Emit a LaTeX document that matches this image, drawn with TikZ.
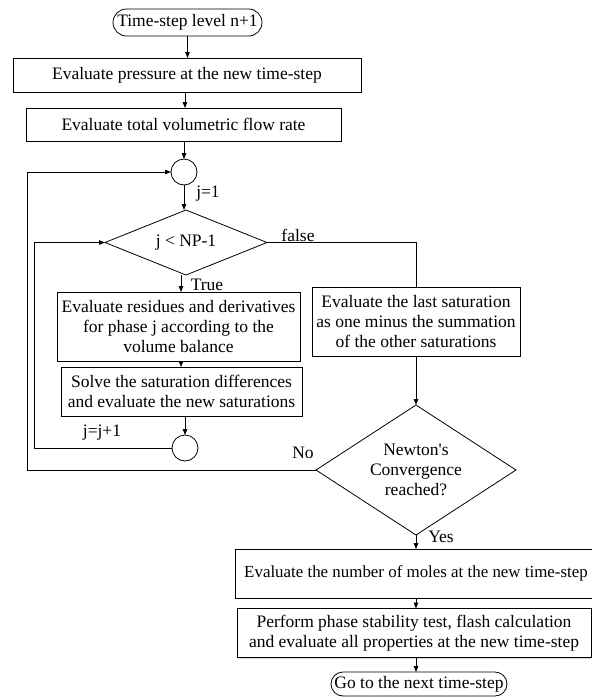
\documentclass[tikz,border=0pt]{standalone}
\usepackage{fontspec}
\setmainfont{Liberation Serif}
\usetikzlibrary{shapes.geometric,shapes.misc,arrows.meta,shadows}
\begin{document}
\begin{tikzpicture}[x=1pt,y=-1pt,
  every node/.style={font=\fontsize{17.5}{20}\selectfont, inner sep=0pt, outer sep=0pt},
  box/.style={draw, rectangle, line width=0.8pt, fill=white, align=center,
    drop shadow={shadow xshift=1.3pt, shadow yshift=-1.3pt, opacity=0.3}},
  term/.style={draw, rounded rectangle, line width=0.8pt, fill=white},
  dia/.style={draw, diamond, line width=0.8pt, fill=white, align=center},
  conn/.style={draw, circle, line width=0.8pt, fill=white, minimum size=26pt},
  lbl/.style={},
  arr/.style={line width=0.8pt, -{Triangle[length=6pt,width=4.5pt]}},
  ln/.style={line width=0.8pt}
]
\useasboundingbox (0,0) rectangle (592,697);

\node[term, minimum width=149pt, minimum height=27pt] (start) at (187.5,22.5) {Time-step level n+1};
\node[box, minimum width=348pt, minimum height=34pt] (b1) at (187,75) {Evaluate pressure at the new time-step};
\node[box, minimum width=315pt, minimum height=33pt] (b2) at (183.5,124.5) {Evaluate total volumetric flow rate};
\node[conn] (c1) at (184,172) {};
\node[dia, minimum width=162pt, minimum height=65pt, shape aspect=2.5] (d1) at (186,242.5) {j < NP-1};
\node[box, minimum width=243pt, minimum height=69pt] (res) at (178.5,326.5) {Evaluate residues and derivatives\\for phase j according to the\\volume balance};
\node[box, minimum width=241pt, minimum height=49pt] (sol) at (181.5,391.5) {Solve the saturation differences\\and evaluate the new saturations};
\node[conn] (c2) at (185,448) {};
\node[box, minimum width=208pt, minimum height=69pt] (rb) at (416,321.5) {Evaluate the last saturation\\as one minus the summation\\of the other saturations};
\node[dia, minimum width=200pt, minimum height=130pt, shape aspect=1.54] (d2) at (416,470) {Newton\textquotesingle s\\Convergence\\reached?};
\node[box, minimum width=362pt, minimum height=49pt, font=\fontsize{16.9}{20}\selectfont] (mol) at (416,573.5) {Evaluate the number of moles at the new time-step};
\node[box, minimum width=354pt, minimum height=49pt] (perf) at (414,633) {Perform phase stability test, flash calculation\\and evaluate all properties at the new time-step};
\node[term, minimum width=176pt, minimum height=24pt] (go) at (419,684) {Go to the next time-step};

\coordinate (L1) at (34,300);
\coordinate (L2) at (27,300);

\draw[arr] (start.south) -- (start.south |- b1.north);
\draw[arr] (185,92) coordinate (a1) -- (a1 |- b2.north);
\draw[arr] (c1 |- b2.south) -- (c1.north);
\draw[arr] (c1.south) -- (c1.south |- d1.north);
\draw[arr] (181,275) coordinate (a2) -- (a2 |- res.north);
\draw[arr] (a2 |- res.south) -- (a2 |- sol.north);
\draw[arr] (c2 |- sol.south) -- (c2.north);
\draw[arr] (c2.west) -- (c2.west -| L1) -- (d1.west -| L1) -- (d1.west);
\draw[ln] (d1.east) -| (rb.north);
\draw[arr] (rb.south) -- (d2.north);
\draw[arr] (d2.west) -- (d2.west -| L2) -- (c1.west -| L2) -- (c1.west);
\draw[arr] (d2.south) -- (mol.north);
\draw[arr] (mol.south) -- (mol.south |- perf.north);
\draw[arr] (mol.south |- perf.south) -- (mol.south |- go.north);

\node[lbl] (tj1) at (208,194) {j=1};
\node[lbl] (ttrue) at (207,285) {True};
\node[lbl] (tfalse) at (298,235) {false};
\node[lbl] (tjj) at (102,433) {j=j+1};
\node[lbl] (tno) at (303,453) {No};
\node[lbl] (tyes) at (441,537) {Yes};
\end{tikzpicture}
\end{document}
